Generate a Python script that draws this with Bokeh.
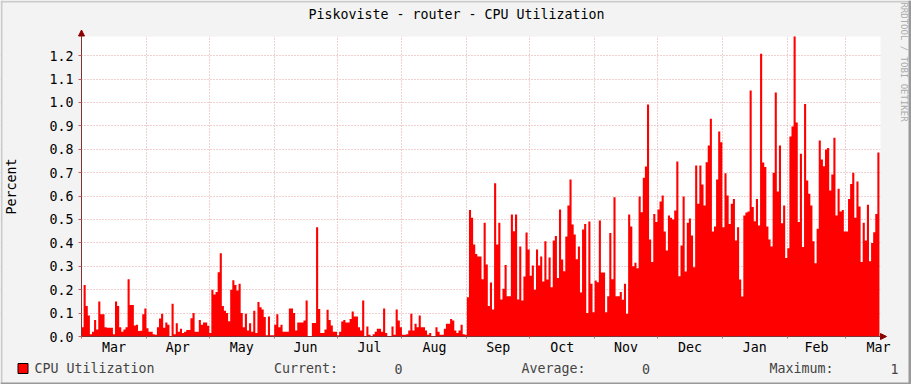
import numpy as np
from math import pi
from bokeh.plotting import figure
from bokeh.models import (FixedTicker, Label, BoxAnnotation, Arrow, NormalHead,
                          Range1d, PrintfTickFormatter)
from bokeh.embed import file_html
from bokeh.resources import INLINE

# ---------------- data ----------------
title_text = "Piskoviste - router - CPU Utilization"
y_label = "Percent"
watermark = "RRDTOOL / TOBI OETIKER"
month_labels = ["Mar", "Apr", "May", "Jun", "Jul", "Aug", "Sep", "Oct", "Nov", "Dec", "Jan", "Feb", "Mar"]
month_lengths = [31, 30, 31, 30, 31, 31, 30, 31, 30, 31, 31, 28, 31]
y_ticks = [0.0, 0.1, 0.2, 0.3, 0.4, 0.5, 0.6, 0.7, 0.8, 0.9, 1.0, 1.1, 1.2]
legend_name = "CPU Utilization"
stat_names = ["Current:", "Average:", "Maximum:"]
stat_values = ["0", "0", "1"]

# daily CPU utilization, starting Mar 1
cpu_mar_apr = [0.04, 0.22, 0.13, 0.09, 0.01, 0.02, 0.07, 0.03, 0.15, 0.095, 0.095, 0.04, 0.037, 0.037, 0.037,
               0.01, 0.15, 0.13, 0.04, 0.02, 0.03, 0.04, 0.245, 0.135, 0.135, 0.047, 0.05, 0.023, 0.025, 0.095,
               0.12, 0.035, 0.02, 0.02, 0.01, 0.007, 0.04, 0.077, 0.097, 0.037, 0.06, 0.05, 0.0, 0.14, 0.01,
               0.057, 0.02, 0.033, 0.015, 0.02, 0.028, 0.028, 0.078, 0.1, 0.02, 0.02, 0.07, 0.05, 0.06, 0.06,
               0.046, 0.015, 0.2, 0.18]
cpu_may_jun = [0.19, 0.275, 0.356, 0.13, 0.11, 0.1, 0.065, 0.2, 0.24, 0.22, 0.197, 0.225, 0.1, 0.04, 0.097,
               0.026, 0.057, 0.02, 0.11, 0.015, 0.147, 0.125, 0.115, 0.083, 0.005, 0.086, 0.005, 0.005, 0.05,
               0.095, 0.04, 0.05, 0.02, 0.02, 0.02, 0.12, 0.12, 0.1, 0.026, 0.06, 0.06, 0.06, 0.068, 0.154,
               0.0, 0.0, 0.058, 0.058, 0.467, 0.118, 0.015, 0.015, 0.03, 0.114, 0.07, 0.047, 0.02, 0.02,
               0.005, 0.02, 0.064, 0.07, 0.06, 0.06, 0.075, 0.107]
cpu_jul_aug = [0.085, 0.085, 0.04, 0.026, 0.154, 0.0, 0.043, 0.008, 0.0, 0.01, 0.02, 0.033, 0.033, 0.02,
               0.12, 0.015, 0.0, 0.0, 0.043, 0.008, 0.115, 0.068, 0.04, 0.008, 0.008, 0.01, 0.026, 0.097,
               0.026, 0.054, 0.04, 0.09, 0.04, 0.04, 0.026, 0.008, 0.015, 0.0, 0.0, 0.04, 0.02, 0.008,
               0.008, 0.033, 0.054, 0.054, 0.075, 0.068, 0.026, 0.015, 0.026, 0.05, 0.01, 0.008]
cpu_sep_oct = [0.168, 0.541, 0.507, 0.393, 0.353, 0.342, 0.342, 0.245, 0.486, 0.308, 0.13, 0.231, 0.115,
               0.655, 0.393, 0.486, 0.158, 0.204, 0.306, 0.172, 0.172, 0.521, 0.45, 0.521, 0.158, 0.385,
               0.154, 0.256, 0.444, 0.372, 0.26, 0.303, 0.2, 0.372, 0.303, 0.342, 0.235, 0.407, 0.244,
               0.338, 0.21, 0.41, 0.43, 0.25, 0.543, 0.329, 0.279, 0.427, 0.56, 0.671, 0.479, 0.436, 0.33,
               0.385, 0.188, 0.457, 0.481, 0.1, 0.491, 0.225, 0.104, 0.239, 0.232, 0.496]
cpu_nov_dec = [0.273, 0.273, 0.104, 0.172, 0.442, 0.245, 0.595, 0.172, 0.172, 0.19, 0.157, 0.225, 0.097,
               0.521, 0.47, 0.3, 0.315, 0.292, 0.598, 0.531, 0.678, 0.726, 0.991, 0.415, 0.318, 0.524,
               0.489, 0.543, 0.577, 0.603, 0.449, 0.368, 0.517, 0.507, 0.5, 0.538, 0.748, 0.258, 0.389,
               0.598, 0.278, 0.486, 0.504, 0.432, 0.296, 0.731, 0.567, 0.731, 0.65, 0.56, 0.745, 0.816,
               0.93, 0.449, 0.47, 0.671, 0.876, 0.83, 0.467, 0.698, 0.603, 0.481, 0.567, 0.588, 0.41,
               0.467, 0.244]
cpu_jan_mar = [0.171, 0.517, 0.53, 0.534, 1.051, 0.553, 0.493, 0.588, 0.474, 1.208, 0.744, 0.724, 0.47,
               0.415, 0.385, 0.7, 1.043, 0.62, 0.816, 0.484, 0.56, 0.335, 0.377, 0.855, 0.897, 1.282,
               0.915, 0.489, 0.781, 0.382, 0.994, 0.667, 0.61, 0.56, 0.407, 0.313, 0.46, 0.838, 0.756,
               0.728, 0.799, 0.806, 0.624, 0.692, 0.849, 0.517, 0.631, 0.534, 0.541, 0.449, 0.449, 0.588,
               0.652, 0.7, 0.507, 0.662, 0.556, 0.318, 0.486, 0.41, 0.563, 0.322, 0.4, 0.446, 0.524, 0.786]

cpu_util = cpu_mar_apr + cpu_may_jun + cpu_jul_aug + cpu_sep_oct + cpu_nov_dec + cpu_jan_mar

# ---------------- layout constants (pixels) ----------------
W, H = 911, 384
PL, PR, PT, PB = 81, 880, 36, 336          # canvas (white area) edges
X_END, Y_TOP = 381.5, 1.282               # data extent of the canvas
FONT = "DejaVu Sans Mono"
FS = "13.3px"
AXIS_C = "#7E3434"
GRID_C = "#E3A0A0"
BACK = "#F3F3F3"

kx = (PR - PL) / X_END
ky = (PB - PT) / Y_TOP
x_lo, x_hi = -PL / kx, X_END + (W - PR) / kx
y_lo, y_hi = -(H - PB) / ky, Y_TOP + PT / ky

# ---------------- derived tick positions ----------------
month_starts = [0]
for L in month_lengths[:-1]:
    month_starts.append(month_starts[-1] + L)
month_mids = [s + L / 2 for s, L in zip(month_starts, month_lengths)]

p = figure(width=W, height=H, x_range=Range1d(x_lo, x_hi), y_range=Range1d(y_lo, y_hi),
           output_backend="svg", toolbar_location=None, title=None,
           min_border=0, min_border_left=0, min_border_right=0, min_border_top=0, min_border_bottom=0,
           background_fill_color="#FFFFFF", border_fill_color=BACK)
p.outline_line_color = None

# area, drawn as steps (one step per day)
step_x, step_y = [], []
for i, v in enumerate(cpu_util):
    step_x += [i, i + 1]
    step_y += [v, v]
p.varea(x=step_x, y1=[0] * len(step_x), y2=step_y, fill_color="#FF0000")

# grid
p.xgrid.ticker = FixedTicker(ticks=month_starts[1:])
p.ygrid.ticker = FixedTicker(ticks=y_ticks[1:])
for g in (p.xgrid, p.ygrid):
    g.grid_line_color = GRID_C
    g.grid_line_dash = "1 2"
    g.grid_line_width = 1

# gray margins outside the canvas (cover grid lines there)
for kw in [dict(right=0), dict(left=X_END), dict(bottom=Y_TOP), dict(top=0)]:
    p.add_layout(BoxAnnotation(fill_color=BACK, fill_alpha=1.0, line_color=None, level="underlay", **kw))

# x axis
xa = p.xaxis[0]
xa.fixed_location = 0
xa.bounds = (0, X_END)
xa.ticker = FixedTicker(ticks=month_mids, minor_ticks=month_starts)
xa.major_label_overrides = {m: lab for m, lab in zip(month_mids, month_labels)}
xa.major_tick_line_color = None
xa.minor_tick_in = 0
xa.minor_tick_out = 2
xa.minor_tick_line_color = "#C86464"
xa.axis_line_color = AXIS_C
xa.major_label_standoff = -3
xa.major_label_text_font = FONT
xa.major_label_text_font_size = FS
xa.major_label_text_color = "#000000"

# y axis
ya = p.yaxis[0]
ya.fixed_location = 0
ya.bounds = (0, Y_TOP)
ya.ticker = FixedTicker(ticks=y_ticks)
ya.formatter = PrintfTickFormatter(format="%.1f")
ya.major_tick_in = 0
ya.major_tick_out = 3
ya.major_tick_line_color = "#C86464"
ya.minor_tick_line_color = None
ya.axis_line_color = AXIS_C
ya.major_label_standoff = 5
ya.major_label_text_font = FONT
ya.major_label_text_font_size = FS
ya.major_label_text_color = "#000000"


def sx(x):
    return x


def sy(y):
    return H - y


# arrows at the ends of the axes
p.add_layout(Arrow(end=NormalHead(size=6, fill_color="#8B0000", line_color="#8B0000"),
                   x_start=sx(PL), y_start=sy(40), x_end=sx(PL), y_end=sy(29.5),
                   start_units="screen", end_units="screen", line_color=AXIS_C, line_width=1))
p.add_layout(Arrow(end=NormalHead(size=6, fill_color="#8B0000", line_color="#8B0000"),
                   x_start=sx(876), y_start=sy(PB), x_end=sx(886), y_end=sy(PB),
                   start_units="screen", end_units="screen", line_color=AXIS_C, line_width=1))

# title, axis label, watermark
p.add_layout(Label(x=sx(456), y=sy(14.2), x_units="screen", y_units="screen", text=title_text,
                   text_font=FONT, text_font_size=FS, text_align="center", text_baseline="middle",
                   text_color="#000000"))
p.add_layout(Label(x=sx(11), y=sy(186), x_units="screen", y_units="screen", text=y_label,
                   angle=pi / 2, text_font=FONT, text_font_size=FS, text_align="center",
                   text_baseline="middle", text_color="#000000"))
p.add_layout(Label(x=sx(903), y=sy(61.5), x_units="screen", y_units="screen", text=watermark,
                   angle=-pi / 2, text_font=FONT, text_font_size="9px", text_align="center",
                   text_baseline="middle", text_color="#ABABAB"))

# legend row
p.add_layout(BoxAnnotation(left=sx(17.5), right=sx(27.5), top=sy(363), bottom=sy(373),
                           left_units="screen", right_units="screen", top_units="screen",
                           bottom_units="screen", fill_color="#FF0000", fill_alpha=1.0,
                           line_color="#000000", line_width=1, line_alpha=1.0))
leg_y = sy(368.3)
p.add_layout(Label(x=sx(34), y=leg_y, x_units="screen", y_units="screen", text=legend_name,
                   text_font=FONT, text_font_size=FS, text_baseline="middle"))
name_x = [273.5, 521, 769]
val_x = [394, 641.5, 890]
for nm, vv, nx, vx in zip(stat_names, stat_values, name_x, val_x):
    p.add_layout(Label(x=sx(nx), y=leg_y, x_units="screen", y_units="screen", text=nm,
                       text_font=FONT, text_font_size=FS, text_baseline="middle"))
    p.add_layout(Label(x=sx(vx), y=leg_y, x_units="screen", y_units="screen", text=vv,
                       text_font=FONT, text_font_size=FS, text_baseline="middle"))

# 3D border of the image
for (l, r, t, b, c) in [(0, 2, 0, H, "#CBCBCB"), (0, W, 0, 2, "#CBCBCB"),
                        (W - 3, W, 0, H, "#999999"), (0, W, H - 2, H, "#999999")]:
    p.add_layout(BoxAnnotation(left=sx(l), right=sx(r), top=sy(t), bottom=sy(b),
                               left_units="screen", right_units="screen", top_units="screen",
                               bottom_units="screen", fill_color=c, fill_alpha=1.0, line_color=None))

open("out.html", "w").write(file_html(p, INLINE))
